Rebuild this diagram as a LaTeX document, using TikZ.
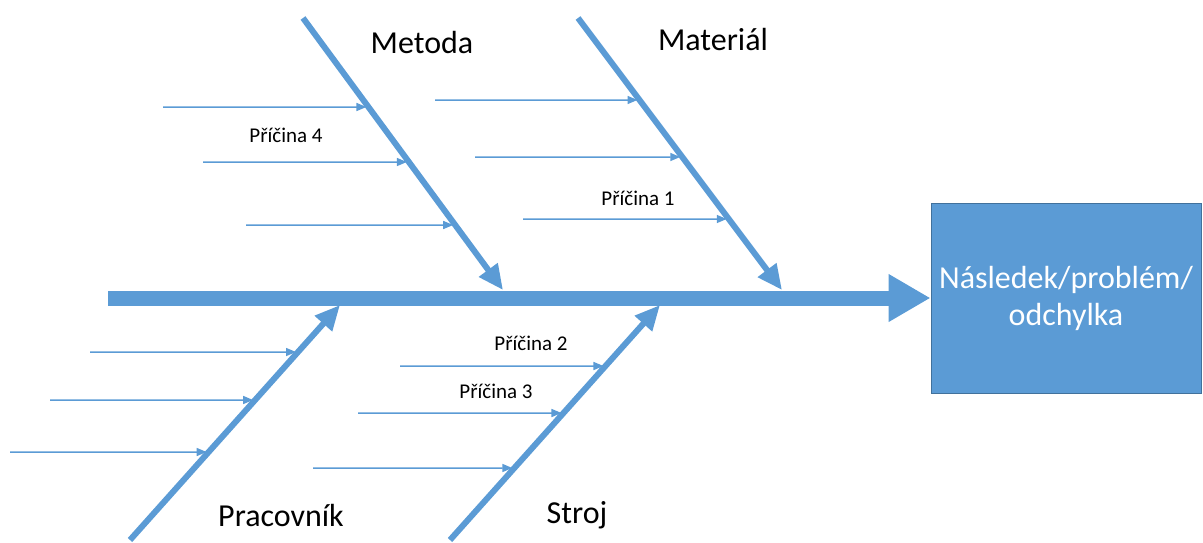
\documentclass[tikz,border=0pt]{standalone}
\usepackage{fontspec}
\setmainfont{Carlito}
\usetikzlibrary{arrows.meta,calc}

\definecolor{fishblue}{RGB}{91,155,213}
\definecolor{fishedge}{RGB}{65,113,156}

\tikzset{
  spine/.style={fishblue, line width=15pt, -{Triangle[width=45pt,length=42pt]}},
  bone/.style={fishblue, line width=6pt, -{Triangle[width=22pt,length=25pt]}},
  cause/.style={fishblue, line width=1.5pt, shorten >=2pt, -{Triangle[width=8pt,length=10pt]}},
  biglabel/.style={anchor=base, font=\fontsize{32}{37}\selectfont},
  smalllabel/.style={anchor=base, font=\fontsize{21}{25}\selectfont}
}

\begin{document}
\begin{tikzpicture}[x=1pt, y=-1pt]
\useasboundingbox (0,0) rectangle (1203,542);

% Effect box
\node[fill=fishblue, draw=fishedge, line width=1pt, minimum width=270pt, minimum height=190pt,
      text=white, align=center, font=\fontsize{32}{37}\selectfont] (effect) at (1066,298)
      {Následek/problém/\\odchylka};

% Main spine
\coordinate (tail) at (108,298);
\draw[spine] (tail) -- (effect.west);

% Upper bones
\coordinate (metA) at (303,18);  \coordinate (metB) at (503,290);
\coordinate (matA) at (578,18);  \coordinate (matB) at (782,290);
\draw[bone] (metA) -- (metB);
\draw[bone] (matA) -- (matB);

% Lower bones
\coordinate (praA) at (130,540); \coordinate (praB) at (340,305);
\coordinate (strA) at (450,540); \coordinate (strB) at (660,305);
\draw[bone] (praA) -- (praB);
\draw[bone] (strA) -- (strB);

% Causes on each bone
\foreach \x/\y in {163/107, 203/162, 246/225}
  \draw[cause] (\x,\y) -- ($(metA)!{(\y-18)/272}!(metB)$);
\foreach \x/\y in {435/100, 475/157, 523/219}
  \draw[cause] (\x,\y) -- ($(matA)!{(\y-18)/272}!(matB)$);
\foreach \x/\y in {90/352, 50/400, 10/452}
  \draw[cause] (\x,\y) -- ($(praA)!{(540-\y)/235}!(praB)$);
\foreach \x/\y in {400/366, 358/413, 313/468}
  \draw[cause] (\x,\y) -- ($(strA)!{(540-\y)/235}!(strB)$);

% Category labels
\node[biglabel] (metoda) at (422,53) {Metoda};
\node[biglabel] (material) at (713,50) {Materiál};
\node[biglabel] (pracovnik) at (281,526) {Pracovník};
\node[biglabel] (stroj) at (577,523) {Stroj};

% Cause labels
\node[smalllabel] (pricina4) at (286,142) {Příčina 4};
\node[smalllabel] (pricina1) at (638,205) {Příčina 1};
\node[smalllabel] (pricina2) at (531,350) {Příčina 2};
\node[smalllabel] (pricina3) at (496,398) {Příčina 3};
\end{tikzpicture}
\end{document}
